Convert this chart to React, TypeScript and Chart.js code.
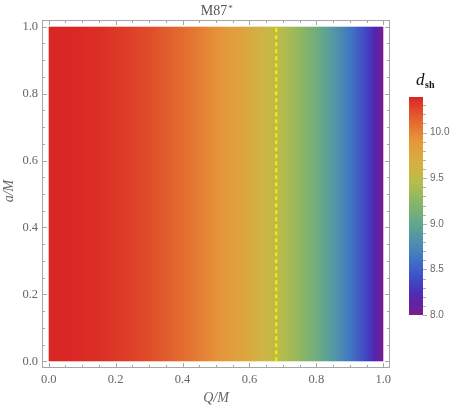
import React, { useEffect, useRef } from 'react';
import { Chart, registerables } from 'chart.js';

Chart.register(...registerables);

// ---- data ----
const qValues = [0, 0.05, 0.1, 0.15, 0.2, 0.25, 0.3, 0.35, 0.4, 0.45, 0.5, 0.55, 0.6, 0.65, 0.7, 0.75, 0.8, 0.85, 0.9, 0.95, 0.975, 1.0];
const dshValues = [10.392, 10.388, 10.375, 10.353, 10.322, 10.283, 10.234, 10.175, 10.106, 10.026, 9.936, 9.833, 9.717, 9.587, 9.441, 9.277, 9.092, 8.881, 8.638, 8.352, 8.187, 8.0];
const aRange = [0, 1];
const boundaryQ = 0.68;
const xTicks = [0, 0.2, 0.4, 0.6, 0.8, 1.0];
const yTicks = [0, 0.2, 0.4, 0.6, 0.8, 1.0];
const colorbarTicks = [8.0, 8.5, 9.0, 9.5, 10.0];
const colorbarMin = 8.0;
const colorbarMax = 10.39;

// colour scheme (Rainbow-like), t in [0,1]
const stopT = [0.0, 0.08, 0.18, 0.28, 0.4, 0.5, 0.6, 0.68, 0.8, 0.9, 1.0];
const stopRGB: number[][] = [
  [122, 30, 140],
  [82, 36, 176],
  [60, 82, 205],
  [66, 126, 194],
  [92, 162, 150],
  [126, 181, 108],
  [180, 188, 76],
  [210, 180, 66],
  [230, 150, 58],
  [226, 98, 45],
  [218, 38, 36],
];

function colorAt(d: number): string {
  let t = (d - colorbarMin) / (colorbarMax - colorbarMin);
  t = Math.max(0, Math.min(1, t));
  for (let i = 0; i < stopT.length - 1; i++) {
    if (t <= stopT[i + 1]) {
      const f = (t - stopT[i]) / (stopT[i + 1] - stopT[i]);
      const c = stopRGB[i].map((v, k) => Math.round(v + (stopRGB[i + 1][k] - v) * f));
      return `rgb(${c[0]},${c[1]},${c[2]})`;
    }
  }
  const c = stopRGB[stopRGB.length - 1];
  return `rgb(${c[0]},${c[1]},${c[2]})`;
}

const FRAME = '#a6a6a6';
const LABEL = '#666666';
const SERIF = "'Liberation Serif', 'DejaVu Serif', serif";
const SANS = "'Liberation Sans', Arial, sans-serif";

const heatmapPlugin = {
  id: 'heatmap',
  beforeDatasetsDraw(chart: any) {
    const { ctx, scales } = chart;
    const x = scales.x, y = scales.y;
    const x0 = x.getPixelForValue(qValues[0]);
    const x1 = x.getPixelForValue(qValues[qValues.length - 1]);
    const yTop = y.getPixelForValue(aRange[1]);
    const yBot = y.getPixelForValue(aRange[0]);
    const g = ctx.createLinearGradient(x0, 0, x1, 0);
    qValues.forEach((q, i) => {
      g.addColorStop((x.getPixelForValue(q) - x0) / (x1 - x0), colorAt(dshValues[i]));
    });
    ctx.save();
    ctx.fillStyle = g;
    ctx.fillRect(x0, yTop, x1 - x0, yBot - yTop);
    ctx.restore();
  },
};

const framePlugin = {
  id: 'frame',
  afterDraw(chart: any) {
    const { ctx, chartArea, scales } = chart;
    const { left, right, top, bottom } = chartArea;
    const x = scales.x, y = scales.y;
    ctx.save();
    ctx.strokeStyle = FRAME;
    ctx.lineWidth = 1;
    ctx.strokeRect(Math.round(left) + 0.5, Math.round(top) + 0.5, Math.round(right - left) - 1, Math.round(bottom - top) - 1);
    ctx.beginPath();
    for (let i = 0; i <= 20; i++) {
      const v = i * 0.05;
      const len = i % 4 === 0 ? 5 : 3;
      const px = Math.round(x.getPixelForValue(v)) + 0.5;
      ctx.moveTo(px, bottom);
      ctx.lineTo(px, bottom - len);
      ctx.moveTo(px, top);
      ctx.lineTo(px, top + len);
      const py = Math.round(y.getPixelForValue(v)) + 0.5;
      ctx.moveTo(left, py);
      ctx.lineTo(left + len, py);
      ctx.moveTo(right, py);
      ctx.lineTo(right - len, py);
    }
    ctx.stroke();

    // title
    ctx.fillStyle = '#555555';
    ctx.font = `14px ${SERIF}`;
    ctx.textBaseline = 'alphabetic';
    ctx.textAlign = 'left';
    const cx = (left + right) / 2;
    const w = ctx.measureText('M87').width;
    ctx.fillText('M87', cx - w / 2 - 2, 15);
    ctx.font = `9px ${SERIF}`;
    ctx.fillText('*', cx + w / 2 - 1, 11);

    // axis titles
    ctx.fillStyle = LABEL;
    ctx.font = `italic 14px ${SERIF}`;
    ctx.textAlign = 'center';
    ctx.textBaseline = 'middle';
    ctx.fillText('Q/M', cx, 398);
    ctx.save();
    ctx.translate(9, (top + bottom) / 2 - 3);
    ctx.rotate(-Math.PI / 2);
    ctx.fillText('a/M', 0, 0);
    ctx.restore();
    ctx.restore();
  },
};

const colorbarPlugin = {
  id: 'colorbar',
  beforeDatasetsDraw(chart: any) {
    const { ctx, chartArea, scales } = chart;
    const y = scales.y;
    const { left, right } = chartArea;
    const yb = y.getPixelForValue(colorbarMin);
    const yt = y.getPixelForValue(colorbarMax);
    const g = ctx.createLinearGradient(0, yb, 0, yt);
    for (let i = 0; i <= 20; i++) {
      const d = colorbarMin + (colorbarMax - colorbarMin) * (i / 20);
      g.addColorStop(i / 20, colorAt(d));
    }
    ctx.save();
    ctx.fillStyle = g;
    ctx.fillRect(left, yt, right - left, yb - yt);
    ctx.strokeStyle = '#b0b0b0';
    ctx.lineWidth = 1;
    ctx.beginPath();
    for (let k = 0; k <= 23; k++) {
      const v = colorbarMin + k * 0.1;
      if (v > colorbarMax) break;
      const major = k % 5 === 0;
      const py = Math.round(y.getPixelForValue(v)) + 0.5;
      ctx.moveTo(right, py);
      ctx.lineTo(right + (major ? 4 : 3), py);
    }
    ctx.stroke();

    // legend title d_sh
    ctx.fillStyle = '#111111';
    ctx.textBaseline = 'alphabetic';
    ctx.textAlign = 'left';
    ctx.font = `italic 17px ${SERIF}`;
    ctx.fillText('d', 416, 85);
    const dw = ctx.measureText('d').width;
    ctx.font = `bold 10px ${SERIF}`;
    ctx.fillText('sh', 416 + dw + 0.5, 88);
    ctx.restore();
  },
};

export default function App() {
  const mainRef = useRef<HTMLCanvasElement>(null);
  const barRef = useRef<HTMLCanvasElement>(null);

  useEffect(() => {
    if (!mainRef.current || !barRef.current) return;
    const tickFont = { family: SERIF, size: 12.5 };
    const main = new Chart(mainRef.current, {
      type: 'scatter',
      data: {
        datasets: [
          {
            label: 'boundary',
            data: [
              { x: boundaryQ, y: aRange[0] },
              { x: boundaryQ, y: aRange[1] },
            ],
            showLine: true,
            borderColor: '#f4f400',
            borderWidth: 2,
            borderDash: [4, 3],
            pointRadius: 0,
            fill: false,
          },
        ],
      },
      options: {
        responsive: false,
        animation: false,
        devicePixelRatio: 1,
        layout: { padding: { top: 20, right: 68, left: 0, bottom: 0 } },
        plugins: { legend: { display: false }, tooltip: { enabled: false }, title: { display: false } },
        events: [],
        scales: {
          x: {
            type: 'linear',
            min: -0.02,
            max: 1.02,
            afterBuildTicks: (s: any) => {
              s.ticks = xTicks.map((v) => ({ value: v }));
            },
            afterFit: (s: any) => {
              s.height = 41;
            },
            grid: { display: false, drawTicks: false },
            border: { display: false },
            ticks: {
              font: tickFont,
              color: LABEL,
              padding: 4,
              maxRotation: 0,
              autoSkip: false,
              callback: (v: any) => Number(v).toFixed(1),
            },
          },
          y: {
            type: 'linear',
            min: -0.02,
            max: 1.02,
            afterBuildTicks: (s: any) => {
              s.ticks = yTicks.map((v) => ({ value: v }));
            },
            afterFit: (s: any) => {
              s.width = 42;
            },
            grid: { display: false, drawTicks: false },
            border: { display: false },
            ticks: {
              font: tickFont,
              color: LABEL,
              padding: 4,
              autoSkip: false,
              callback: (v: any) => Number(v).toFixed(1),
            },
          },
        },
      },
      plugins: [heatmapPlugin, framePlugin],
    } as any);

    const bar = new Chart(barRef.current, {
      type: 'scatter',
      data: { datasets: [{ label: 'dsh', data: [], pointRadius: 0 }] },
      options: {
        responsive: false,
        animation: false,
        devicePixelRatio: 1,
        events: [],
        layout: { padding: { top: 97, bottom: 94, left: 409, right: 0 } },
        plugins: { legend: { display: false }, tooltip: { enabled: false } },
        scales: {
          x: { type: 'linear', display: false },
          y: {
            type: 'linear',
            position: 'right',
            min: colorbarMin,
            max: colorbarMax,
            afterBuildTicks: (s: any) => {
              s.ticks = colorbarTicks.map((v) => ({ value: v }));
            },
            afterFit: (s: any) => {
              s.width = 35;
            },
            grid: { display: false, drawTicks: false },
            border: { display: false },
            ticks: {
              font: { family: SANS, size: 10 },
              color: '#6a6a6a',
              padding: 7,
              autoSkip: false,
              callback: (v: any) => Number(v).toFixed(1),
            },
          },
        },
      },
      plugins: [colorbarPlugin],
    } as any);

    return () => {
      main.destroy();
      bar.destroy();
    };
  }, []);

  return (
    <div style={{ position: 'absolute', left: 0, top: 0, width: 458, height: 409, background: '#ffffff' }}>
      <canvas ref={mainRef} width={458} height={409} style={{ position: 'absolute', left: 0, top: 0, display: 'block' }} />
      <canvas ref={barRef} width={458} height={409} style={{ position: 'absolute', left: 0, top: 0, display: 'block' }} />
    </div>
  );
}
